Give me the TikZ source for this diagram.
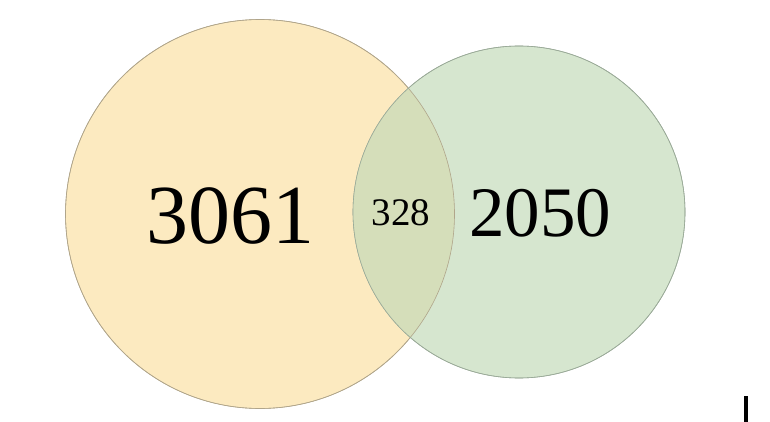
\documentclass[tikz,border=0pt]{standalone}
\usepackage{fontspec}
\setmainfont{Liberation Serif}
\begin{document}
\begin{tikzpicture}[x=1pt,y=-1pt,
  setA/.style={fill=yellowA, draw=edgeA, line width=0.6pt},
  setB/.style={fill=greenB, draw=edgeB, line width=0.6pt},
  num/.style={inner sep=0pt, anchor=base, text=black}]
\definecolor{yellowA}{HTML}{FCEAC0}
\definecolor{greenB}{HTML}{D6E6CF}
\definecolor{overlapC}{HTML}{D5DEBA}
\definecolor{edgeA}{HTML}{B0A58A}
\definecolor{edgeB}{HTML}{9AAA98}
\useasboundingbox (0,0) rectangle (770,422);
\fill[white] (0,0) rectangle (770,422);
\node[setA, circle, minimum size=389pt, inner sep=0pt] (A) at (260,214) {};
\node[setB, circle, minimum size=332pt, inner sep=0pt] (B) at (519,212) {};
\begin{scope}
  \clip (260,214) circle (194.5);
  \fill[overlapC] (519,212) circle (166);
\end{scope}
\draw[edgeA, line width=0.6pt] (260,214) circle (194.5);
\draw[edgeB, line width=0.6pt] (519,212) circle (166);
\node[num, font=\fontsize{84}{84}\selectfont] (a) at (230,243) {3061};
\node[num, font=\fontsize{71}{71}\selectfont] (b) at (540,236) {2050};
\node[num, font=\fontsize{39}{39}\selectfont] (c) at (401,225) {328};
\fill[black] (744,396) rectangle (748,422);
\end{tikzpicture}
\end{document}
